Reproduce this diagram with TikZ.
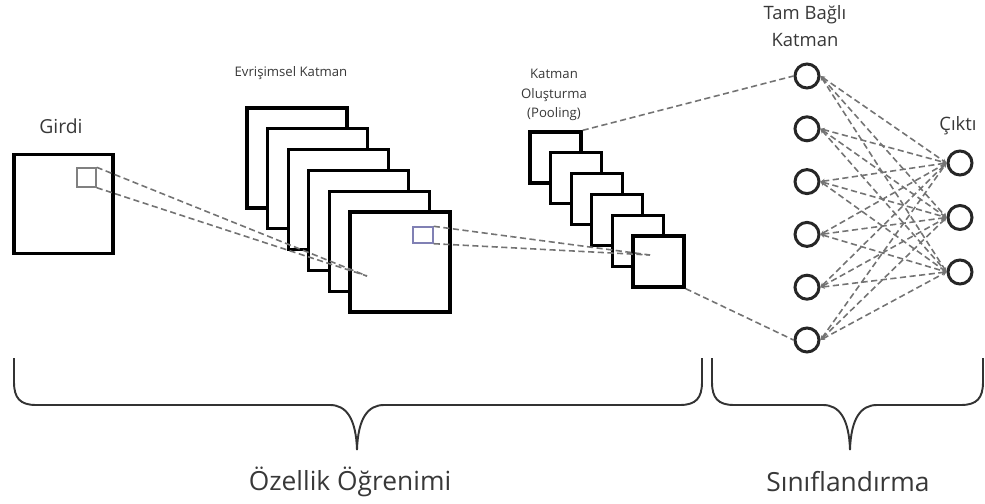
\documentclass[tikz,border=0pt]{standalone}
\usepackage{fontspec}
\setmainfont{Open Sans}
\usetikzlibrary{positioning}
\usetikzlibrary{arrows.meta}

\definecolor{patchblue}{RGB}{128,128,180}

\tikzset{
  frame/.style={draw=black, fill=white, line width=1.9pt, minimum size=2cm, inner sep=0pt},
  poolframe/.style={frame, minimum size=1.02cm},
  patch/.style={draw=gray, line width=0.8pt, minimum size=0.38cm, inner sep=0pt},
  neuron/.style={circle, draw=black!85, line width=1.7pt, fill=white, minimum size=0.48cm, inner sep=0pt},
  link/.style={black!55, line width=0.9pt, dash pattern=on 3.5pt off 2pt},
  brace/.style={black!80, line width=1.1pt},
  lbl/.style={text=black!78, inner sep=0pt},
}

\begin{document}
\begin{tikzpicture}[x=0.02cm, y=-0.02cm]
\useasboundingbox (0,0) rectangle (985,504);

%input
\node[frame, minimum size=1.98cm] (input) at (63.5,204) {};
\node[patch] (inpatch) at (86.5,177.5) {};
\node[lbl, font=\fontsize{11}{13}\selectfont] (inlabel) at (61,126) {Girdi};

%conv layers
\foreach \i in {0,...,5}
  \node[frame] (conv\i) at ({297+20.6*\i},{158+20.8*\i}) {};
\node[patch, draw=patchblue, minimum width=0.4cm, minimum height=0.32cm] (convpatch) at (423,235) {};
\node[lbl, font=\fontsize{7.5}{9}\selectfont] (convlabel) at (291,73) {Evrişimsel Katman};

%pooling layers
\foreach \i in {0,...,5}
  \node[poolframe] (pool\i) at ({555.5+20.6*\i},{157.5+20.8*\i}) {};
\node[lbl, align=center, font=\fontsize{7.5}{11}\selectfont] (poollabel) at (554,95) {Katman\\Oluşturma\\(Pooling)};

%fully connected + output
\foreach \j in {1,...,6}
  \node[neuron] (fc\j) at (807,{76+52.8*(\j-1)}) {};
\foreach \k in {1,2,3}
  \node[neuron] (out\k) at (960,{163+54.5*(\k-1)}) {};
\node[lbl, align=center, font=\fontsize{10.5}{15.5}\selectfont] (fclabel) at (805,26) {Tam Bağlı\\Katman};
\node[lbl, font=\fontsize{10.5}{13}\selectfont] (outlabel) at (958,126) {Çıktı};

%receptive field lines
\coordinate (convhit) at (367,276);
\coordinate (poolhit) at (650,255);
\draw[link] (inpatch.north east) -- (convhit);
\draw[link] (inpatch.south east) -- (convhit);
\draw[link] (convpatch.north east) -- (poolhit);
\draw[link] (convpatch.south east) -- (poolhit);
\draw[link] (pool0.north east) -- (fc1.west);
\draw[link] (pool5.south east) -- (fc6.west);

%dense links
\foreach \j in {1,...,6}
  \foreach \k in {1,2,3}
    \draw[link, {Stealth[length=2.5pt,width=2.5pt]}-{Stealth[length=2.5pt,width=2.5pt]}] (fc\j.east) -- (out\k.west);

%braces
\draw[brace] (14,358) -- (14,382) .. controls (14,398) and (20,405) .. (36,405)
  -- (330,405) .. controls (346,405) and (356,418) .. (357,450)
  .. controls (358,418) and (368,405) .. (384,405)
  -- (680,405) .. controls (696,405) and (702,398) .. (702,382) -- (702,358);
\draw[brace] (712,358) -- (712,382) .. controls (712,398) and (718,405) .. (734,405)
  -- (823,405) .. controls (839,405) and (849,418) .. (850,450)
  .. controls (851,418) and (861,405) .. (877,405)
  -- (961,405) .. controls (977,405) and (983,398) .. (983,382) -- (983,358);
\node[lbl, font=\fontsize{15}{18}\selectfont] (featlabel) at (350,482) {Özellik Öğrenimi};
\node[lbl, font=\fontsize{15}{18}\selectfont] (clslabel) at (848,482) {Sınıflandırma};

\end{tikzpicture}
\end{document}
